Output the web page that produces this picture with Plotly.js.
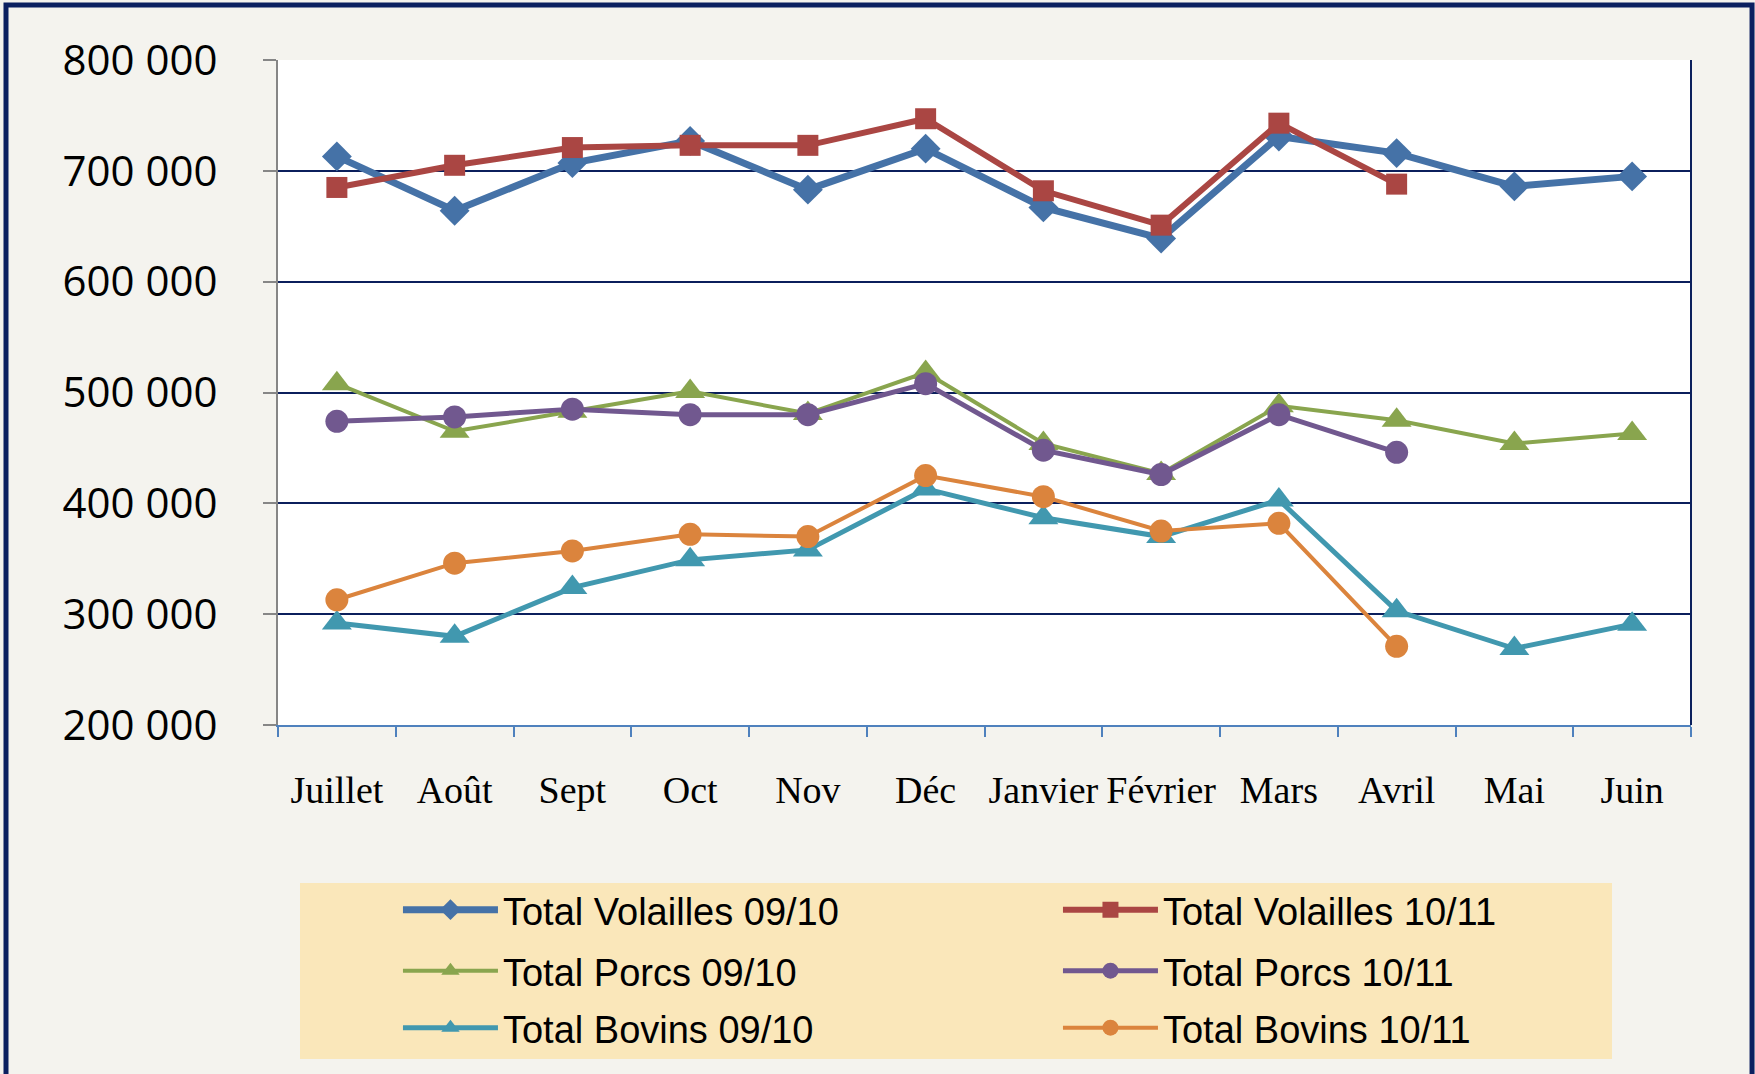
<!DOCTYPE html>
<html>
<head>
<meta charset="utf-8">
<script src="https://cdn.plot.ly/plotly-3.0.1.min.js"></script>
<style>
  body { margin: 0; background: #f4f3ee; }
  #chart { width: 1755px; height: 1074px; }
</style>
</head>
<body>
<div id="chart"></div>
<script>
// months of the campaign, July to June
var months = ["Juillet", "Août", "Sept", "Oct", "Nov", "Déc", "Janvier", "Février", "Mars", "Avril", "Mai", "Juin"];

var volailles0910 = [713000, 664000, 707000, 727000, 683000, 720000, 667000, 639000, 731000, 716000, 686000, 695000];
var volailles1011 = [685000, 705000, 721000, 723000, 723000, 747000, 682000, 651000, 743000, 688000];
var porcs0910 = [508000, 465000, 483000, 501000, 481000, 518000, 454000, 427000, 488000, 475000, 454000, 463000];
var porcs1011 = [474000, 478000, 485000, 480000, 480000, 508000, 448000, 426000, 480000, 446000];
var bovins0910 = [292000, 280000, 324000, 349000, 358000, 413000, 387000, 370000, 403000, 303000, 269000, 291000];
var bovins1011 = [313000, 346000, 357000, 372000, 370000, 425000, 406000, 375000, 382000, 271000];

var yTickVals = [200000, 300000, 400000, 500000, 600000, 700000, 800000];
var yTickText = ["200 000", "300 000", "400 000", "500 000", "600 000", "700 000", "800 000"];

function serie(name, values, color, width, symbol, size, legend) {
  return {
    x: months.slice(0, values.length),
    y: values,
    name: name,
    legend: legend,
    type: "scatter",
    mode: "lines+markers",
    line: { color: color, width: width },
    marker: { color: color, symbol: symbol, size: size },
    hoverinfo: "name+x+y"
  };
}

var data = [
  serie("Total Volailles 09/10", volailles0910, "#4572a7", 7, "diamond", 23, "legend"),
  serie("Total Volailles 10/11", volailles1011, "#aa4643", 6, "square", 21, "legend"),
  serie("Total Porcs 09/10", porcs0910, "#89a54e", 4, "triangle-up", 26, "legend2"),
  serie("Total Porcs 10/11", porcs1011, "#71588f", 5, "circle", 23, "legend2"),
  serie("Total Bovins 09/10", bovins0910, "#4198af", 5, "triangle-up", 26, "legend3"),
  serie("Total Bovins 10/11", bovins1011, "#db843d", 4, "circle", 23, "legend3")
];

var navy = "#0b1f5c";

// one legend per row, so the rows can be spaced like the original
function legendRow(y) {
  return {
    orientation: "h",
    x: 0.0849,
    xanchor: "left",
    y: y,
    yanchor: "middle",
    bgcolor: "rgba(0,0,0,0)",
    itemwidth: 95,
    entrywidth: 550,
    entrywidthmode: "pixels",
    font: { family: "Liberation Sans, Arial, sans-serif", size: 38, color: "#000000" }
  };
}

var layout = {
  width: 1755,
  height: 1074,
  margin: { l: 278, r: 64, t: 60, b: 349 },
  paper_bgcolor: "#f4f3ee",
  plot_bgcolor: "#ffffff",
  showlegend: true,
  xaxis: {
    type: "category",
    categoryarray: months,
    range: [-0.5, 11.5],
    automargin: false,
    showgrid: false,
    showline: true,
    linecolor: "#4f81bd",
    linewidth: 2,
    ticks: "outside",
    tickson: "boundaries",
    ticklen: 10,
    tickwidth: 2,
    tickcolor: "#4f81bd",
    tickangle: 0,
    ticklabelstandoff: 30,
    tickfont: { family: "Liberation Serif, DejaVu Serif, serif", size: 38, color: "#000000" }
  },
  yaxis: {
    range: [200000, 800000],
    tickvals: yTickVals,
    ticktext: yTickText,
    automargin: false,
    showgrid: true,
    gridcolor: navy,
    gridwidth: 2,
    zeroline: false,
    showline: true,
    linecolor: "#868686",
    linewidth: 2,
    ticks: "outside",
    ticklen: 13,
    tickwidth: 2,
    tickcolor: "#868686",
    ticklabelstandoff: 37,
    tickfont: { family: "Open Sans, Noto Sans, sans-serif", size: 42, color: "#000000" }
  },
  legend: legendRow(-0.2782),
  legend2: legendRow(-0.3699),
  legend3: legendRow(-0.4556),
  shapes: [
    // right border of the plot area
    { type: "line", xref: "paper", yref: "paper", x0: 1, x1: 1, y0: 0, y1: 1,
      line: { color: navy, width: 2 } },
    // outer frame of the chart
    { type: "rect", xref: "paper", yref: "paper", x0: -0.1925, x1: 1.0432, y0: -0.56, y1: 1.0827,
      line: { color: "#0b2060", width: 5 }, layer: "below" },
    // legend box
    { type: "rect", xref: "paper", yref: "paper", x0: 0.01557, x1: 0.9441, y0: -0.5023, y1: -0.2376,
      fillcolor: "#fae7ba", line: { width: 0 }, layer: "below" }
  ]
};

Plotly.newPlot("chart", data, layout, { displayModeBar: false });
</script>
</body>
</html>
